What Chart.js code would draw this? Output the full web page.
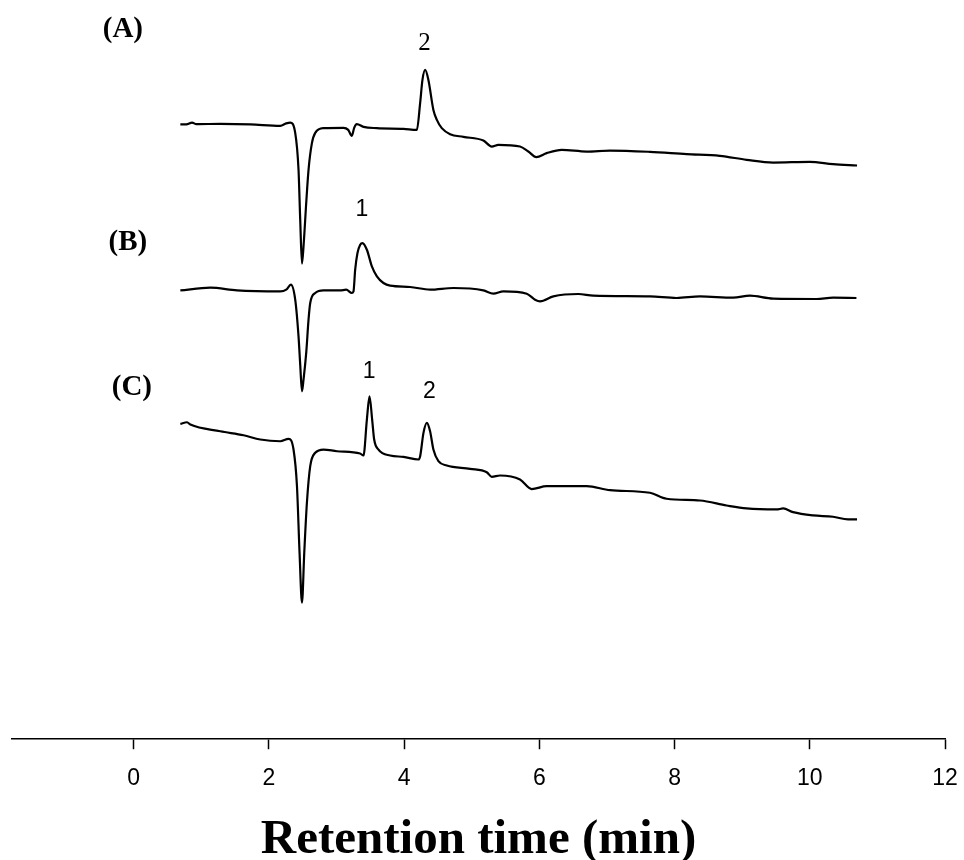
<!DOCTYPE html>
<html>
<head>
<meta charset="utf-8">
<script src="https://cdn.jsdelivr.net/npm/chart.js@4.4.0/dist/chart.umd.min.js"></script>
<style>
  html, body { margin: 0; padding: 0; background: #fff; }
  #wrap { width: 964px; height: 860px; }
</style>
</head>
<body>
<div id="wrap"><canvas id="chromChart" width="964" height="860"></canvas></div>
<script>
// retention time (min) and detector response (arbitrary units, traces stacked)
const timeA = [0.690, 0.779, 0.863, 0.927, 1.281, 1.725, 2.168, 2.256, 2.315, 2.389, 2.438, 2.463, 2.489, 2.512, 2.552, 2.586, 2.636, 2.685, 2.808, 3.103, 3.173, 3.227, 3.261, 3.301, 3.399, 3.597, 3.990, 4.188, 4.237, 4.271, 4.311, 4.359, 4.433, 4.484, 4.557, 4.680, 4.877, 5.172, 5.296, 5.394, 5.714, 5.837, 5.955, 6.109, 6.331, 6.700, 7.045, 7.636, 8.178, 8.670, 9.065, 9.458, 10.000, 10.344, 10.699];
const signalA = [615.5, 615.5, 617.3, 615.7, 616, 615.5, 614, 616.5, 617.3, 607, 570, 520, 476, 493.3, 537, 570, 596.7, 607, 611.7, 612, 610, 604, 612, 615.7, 613, 611.7, 611, 610, 637, 660, 670, 660, 630, 620, 611.7, 605.7, 603, 599.3, 593.3, 595, 593.3, 588.3, 582.7, 586.7, 590, 588.3, 589.3, 588, 585.7, 584, 580, 577.3, 578, 575.7, 574.3];

const timeB = [0.690, 1.133, 1.528, 2.168, 2.256, 2.326, 2.389, 2.438, 2.463, 2.489, 2.512, 2.552, 2.586, 2.611, 2.685, 2.808, 3.054, 3.143, 3.227, 3.251, 3.276, 3.310, 3.350, 3.384, 3.449, 3.523, 3.597, 3.694, 3.793, 4.089, 4.384, 4.729, 5.172, 5.320, 5.468, 5.814, 5.936, 6.010, 6.207, 6.576, 6.798, 7.636, 8.030, 8.375, 8.867, 9.114, 9.458, 10.099, 10.344, 10.690];
const signalB = [449.3, 452, 449.3, 448.3, 450, 455, 440, 403.3, 375, 348.3, 360, 387, 420, 436.7, 446.7, 449.3, 449.3, 450, 446.7, 448.3, 470, 486.7, 495, 496.7, 490, 473.3, 463.3, 456.7, 454, 452.7, 450, 451.7, 449.3, 446, 448.3, 446, 440, 438.3, 443.3, 445.7, 444, 443.3, 441.7, 443.3, 442, 444, 441, 440.7, 442, 441.7];

const timeC = [0.690, 0.789, 0.838, 1.281, 1.626, 1.872, 2.168, 2.291, 2.364, 2.415, 2.453, 2.489, 2.523, 2.562, 2.611, 2.685, 2.808, 3.006, 3.349, 3.399, 3.449, 3.488, 3.527, 3.557, 3.621, 3.793, 3.990, 4.212, 4.237, 4.286, 4.336, 4.384, 4.433, 4.507, 4.631, 4.976, 5.222, 5.296, 5.418, 5.714, 5.887, 6.109, 6.700, 7.045, 7.636, 7.882, 8.375, 8.769, 9.065, 9.508, 9.606, 9.753, 10.049, 10.344, 10.566, 10.699];
const signalC = [315.7, 317.3, 315, 308.3, 304.3, 300, 298.3, 300.7, 290, 253.3, 187, 136.7, 187, 236.7, 273.3, 286.7, 290, 288.3, 286, 284, 320, 343.3, 320, 300, 290, 284, 282.7, 280, 283.3, 306.7, 316.7, 308.3, 290, 278.3, 274, 270.7, 267.3, 262.7, 264, 260, 250.4, 253.3, 253.3, 249.3, 246.7, 240.7, 239, 234, 231, 230, 231, 227.3, 224, 222.7, 220, 220];

const xTicks = [0, 2, 4, 6, 8, 10, 12];

// peak numbers: text, time, signal
const peakText = ['2', '1', '1', '2'];
const peakTime = [4.30, 3.375, 3.484, 4.373];
const peakSignal = [697, 530, 368, 348];

const panelText = ['(A)', '(B)', '(C)'];
const panelTime = [-0.16, -0.086, -0.027];
const panelSignal = [710, 497, 352.5];

function toXY(times, values) {
    return times.map((t, i) => ({ x: t, y: values[i] }));
}

const traceStyle = {
    borderColor: '#000',
    borderWidth: 2.2,
    pointRadius: 0,
    fill: false,
    cubicInterpolationMode: 'monotone'
};

// text labels placed through the chart scales
const labelPlugin = {
    id: 'labels',
    afterDatasetsDraw(chart) {
        const { ctx, scales } = chart;
        ctx.save();
        ctx.fillStyle = '#000';
        ctx.textAlign = 'center';
        ctx.textBaseline = 'middle';
        peakText.forEach((txt, i) => {
            ctx.font = i === 0 ? '25px "Liberation Serif", "Times New Roman", serif'
                               : '23px "Liberation Sans", Arial, sans-serif';
            ctx.fillText(txt, scales.x.getPixelForValue(peakTime[i]), scales.y.getPixelForValue(peakSignal[i]));
        });
        ctx.font = 'bold 29px "Liberation Serif", "Times New Roman", serif';
        panelText.forEach((txt, i) => {
            ctx.fillText(txt, scales.x.getPixelForValue(panelTime[i]), scales.y.getPixelForValue(panelSignal[i]));
        });
        ctx.restore();
    }
};

const ctx = document.getElementById('chromChart').getContext('2d');
new Chart(ctx, {
    type: 'line',
    data: {
        datasets: [
            { label: 'A', data: toXY(timeA, signalA), ...traceStyle },
            { label: 'B', data: toXY(timeB, signalB), ...traceStyle },
            { label: 'C', data: toXY(timeC, signalC), ...traceStyle }
        ]
    },
    options: {
        responsive: false,
        animation: false,
        layout: { padding: { left: 12, right: 19, top: 0, bottom: 0 } },
        plugins: { legend: { display: false }, tooltip: { enabled: false } },
        scales: {
            x: {
                type: 'linear',
                min: -1.8,
                max: 12,
                afterBuildTicks: (scale) => { scale.ticks = xTicks.map(v => ({ value: v })); },
                // the "12" label fits inside the layout padding, don't reserve extra room for it
                afterFit: (scale) => { scale.paddingRight = 0; scale.paddingLeft = 0; },
                border: { display: true, color: '#000', width: 1.5 },
                grid: { drawOnChartArea: false, drawTicks: true, tickLength: 10, tickColor: '#000', tickWidth: 1.5 },
                ticks: {
                    color: '#000',
                    padding: 16,
                    maxRotation: 0,
                    font: { family: '"Liberation Sans", Arial, sans-serif', size: 23 }
                },
                title: {
                    display: true,
                    text: 'Retention time (min)',
                    color: '#000',
                    padding: { top: 11, bottom: 0 },
                    font: { family: '"Liberation Serif", "Times New Roman", serif', size: 49, weight: 'bold', lineHeight: 0.82 }
                }
            },
            y: {
                display: false,
                min: 0,
                max: 740
            }
        }
    },
    plugins: [labelPlugin]
});
</script>
</body>
</html>
